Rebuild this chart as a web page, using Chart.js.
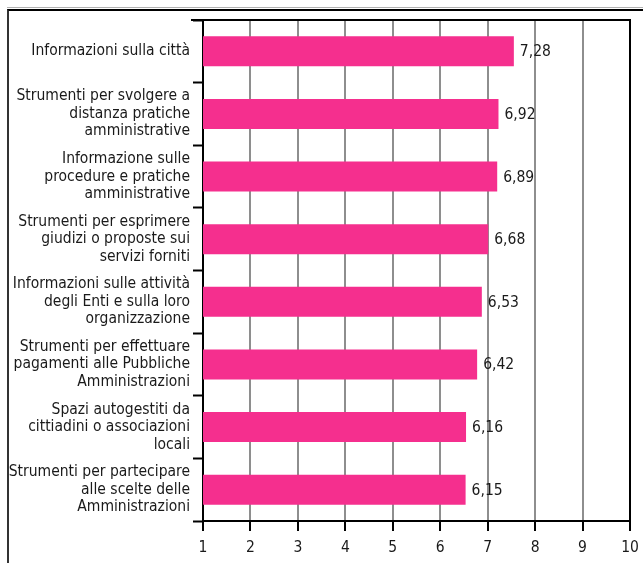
<!DOCTYPE html>
<html lang="it">
<head>
<meta charset="utf-8">
<title>Strumenti e informazioni</title>
<script src="https://cdn.jsdelivr.net/npm/chart.js@4/dist/chart.umd.min.js"></script>
<style>
    html, body { margin: 0; padding: 0; background: #fff; overflow: hidden; }
    #wrap { position: relative; width: 643px; height: 563px; }
    #frameTop { position: absolute; left: 7px; top: 7px; right: 0; height: 1px; background: #b0b0b0; }
    #frame { position: absolute; left: 7px; top: 9px; right: -4px; bottom: -4px; border-top: 2px solid #000; border-left: 2px solid #333; }
    canvas { position: absolute; left: 0; top: 0; }
</style>
</head>
<body>
<div id="wrap">
    <div id="frameTop"></div>
    <div id="frame"></div>
    <canvas id="barChart" width="643" height="563"></canvas>
</div>
<script>
// Categories (multi-line labels as in the original)
const categories = [
    ['Informazioni sulla città'],
    ['Strumenti per svolgere a', 'distanza pratiche', 'amministrative'],
    ['Informazione sulle', 'procedure e pratiche', 'amministrative'],
    ['Strumenti per esprimere', 'giudizi o proposte sui', 'servizi forniti'],
    ['Informazioni sulle attività', 'degli Enti e sulla loro', 'organizzazione'],
    ['Strumenti per effettuare', 'pagamenti alle Pubbliche', 'Amministrazioni'],
    ['Spazi autogestiti da', 'cittiadini o associazioni', 'locali'],
    ['Strumenti per partecipare', 'alle scelte delle', 'Amministrazioni']
];
const scores = [7.28, 6.92, 6.89, 6.68, 6.53, 6.42, 6.16, 6.15];
const tickLabels = ['1', '2', '3', '4', '5', '6', '7', '8', '9', '10'];

const FONT = "'Liberation Sans Narrow', 'DejaVu Sans Condensed', 'Arial Narrow', sans-serif";
const TEXT = '#1a1a1a';

// value labels next to each bar + top/right frame of the plot
const extrasPlugin = {
    id: 'extras',
    afterDatasetsDraw(chart) {
        const ctx = chart.ctx;
        const meta = chart.getDatasetMeta(0);
        ctx.save();
        ctx.font = '15.5px ' + FONT;
        ctx.fillStyle = TEXT;
        ctx.textAlign = 'left';
        ctx.textBaseline = 'middle';
        meta.data.forEach((bar, i) => {
            ctx.fillText(scores[i].toFixed(2).replace('.', ','), bar.x + 6, bar.y + 1);
        });
        ctx.restore();
    },
    afterDraw(chart) {
        const { ctx, chartArea } = chart;
        ctx.save();
        ctx.strokeStyle = '#000';
        ctx.lineWidth = 2;
        ctx.beginPath();
        ctx.moveTo(chartArea.left - 12, chartArea.top);
        ctx.lineTo(chartArea.right + 1, chartArea.top);
        ctx.moveTo(chartArea.right, chartArea.top);
        ctx.lineTo(chartArea.right, chartArea.bottom);
        ctx.stroke();
        ctx.restore();
    }
};

const ctx = document.getElementById('barChart').getContext('2d');
new Chart(ctx, {
    type: 'bar',
    data: {
        labels: categories,
        datasets: [{
            data: scores,
            xAxisID: 'x',
            backgroundColor: '#f52f8e',
            borderWidth: 0,
            barPercentage: 0.48,
            categoryPercentage: 1
        }]
    },
    options: {
        indexAxis: 'y',
        responsive: false,
        animation: false,
        layout: { padding: { top: 20, right: 13, left: 0, bottom: 0 } },
        plugins: {
            legend: { display: false },
            tooltip: { enabled: false }
        },
        scales: {
            // bars are measured on a 0-10 length
            x: {
                type: 'linear',
                display: false,
                min: 0,
                max: 10
            },
            // visible scale printed below the plot
            x2: {
                type: 'linear',
                position: 'bottom',
                min: 1,
                max: 10,
                afterFit: (scale) => {
                    scale.height = 42;
                    scale.paddingLeft = 0;
                    scale.paddingRight = 0;
                },
                ticks: {
                    stepSize: 1,
                    color: TEXT,
                    padding: 8,
                    font: { family: FONT, size: 15.5 },
                    callback: (v, i) => tickLabels[i]
                },
                grid: {
                    color: '#8e8e8e',
                    lineWidth: 2,
                    tickColor: '#000',
                    tickLength: 10,
                    tickWidth: 2
                },
                border: { color: '#000', width: 2 }
            },
            y: {
                afterFit: (scale) => {
                    scale.width = 203;
                    scale.paddingTop = 0;
                    scale.paddingBottom = 0;
                },
                ticks: {
                    color: TEXT,
                    padding: 3,
                    font: { family: FONT, size: 15.5, lineHeight: 1.13 }
                },
                grid: {
                    drawOnChartArea: false,
                    tickColor: '#000',
                    tickLength: 10,
                    tickWidth: 2
                },
                border: { color: '#000', width: 2 }
            }
        }
    },
    plugins: [extrasPlugin]
});
</script>
</body>
</html>
